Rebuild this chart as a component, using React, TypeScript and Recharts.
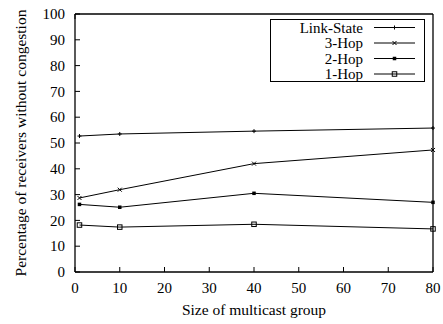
import React from 'react';
import { LineChart, Line, XAxis, YAxis, Legend } from 'recharts';

const groupSizes = [1, 10, 40, 80];
const linkState = [52.7, 53.5, 54.6, 55.8];
const hop3 = [28.7, 31.9, 42.0, 47.3];
const hop2 = [26.2, 25.1, 30.5, 27.0];
const hop1 = [18.2, 17.4, 18.5, 16.7];
const xTicks = [0, 10, 20, 30, 40, 50, 60, 70, 80];
const yTicks = [0, 10, 20, 30, 40, 50, 60, 70, 80, 90, 100];

const seriesNames = ['Link-State', '3-Hop', '2-Hop', '1-Hop'];
const markerKinds: Record<string, string> = {
  'Link-State': 'plus',
  '3-Hop': 'cross',
  '2-Hop': 'star',
  '1-Hop': 'square',
};

const data = groupSizes.map((g, i) => ({
  size: g,
  'Link-State': linkState[i],
  '3-Hop': hop3[i],
  '2-Hop': hop2[i],
  '1-Hop': hop1[i],
}));

const FONT = "'Liberation Serif', Tinos, 'DejaVu Serif', serif";
const INK = '#000';
const txtStyle: React.CSSProperties = { fontFamily: FONT, fontSize: 15, fill: INK };
const labelStyle: React.CSSProperties = { fontFamily: FONT, fontSize: 15.5, fill: INK };

function Marker({ kind, cx, cy }: { kind: string; cx: number; cy: number }) {
  const s = 2;
  if (kind === 'plus') {
    return (
      <g stroke={INK} strokeWidth={1}>
        <line x1={cx - s} x2={cx + s} y1={cy} y2={cy} />
        <line x1={cx} x2={cx} y1={cy - s} y2={cy + s} />
      </g>
    );
  }
  if (kind === 'cross') {
    return (
      <g stroke={INK} strokeWidth={1}>
        <line x1={cx - s} x2={cx + s} y1={cy - s} y2={cy + s} />
        <line x1={cx - s} x2={cx + s} y1={cy + s} y2={cy - s} />
      </g>
    );
  }
  if (kind === 'star') {
    return <rect x={cx - 1.75} y={cy - 1.75} width={3.5} height={3.5} fill={INK} stroke="none" />;
  }
  return <rect x={cx - 2.25} y={cy - 2.25} width={4.5} height={4.5} fill="none" stroke={INK} strokeWidth={1} />;
}

const makeDot = (name: string) => (props: any) => {
  const { cx, cy, index } = props;
  if (cx == null || cy == null) return <g key={`n-${index}`} />;
  return <Marker key={`${name}-${index}`} kind={markerKinds[name]} cx={cx} cy={cy} />;
};

const BottomTick = (props: any) => {
  const { x, y, payload } = props;
  return (
    <g>
      <line x1={x} x2={x} y1={y} y2={y - 5} stroke={INK} strokeWidth={1} />
      <text x={x} y={y + 21} textAnchor="middle" style={txtStyle}>
        {payload.value}
      </text>
    </g>
  );
};

const TopTick = (props: any) => {
  const { x, y } = props;
  return <line x1={x} x2={x} y1={y} y2={y + 5} stroke={INK} strokeWidth={1} />;
};

const LeftTick = (props: any) => {
  const { x, y, payload } = props;
  return (
    <g>
      <line x1={x} x2={x + 5} y1={y} y2={y} stroke={INK} strokeWidth={1} />
      <text x={x - 10} y={y} dy="0.34em" textAnchor="end" style={txtStyle}>
        {payload.value}
      </text>
    </g>
  );
};

const RightTick = (props: any) => {
  const { x, y } = props;
  return <line x1={x} x2={x - 5} y1={y} y2={y} stroke={INK} strokeWidth={1} />;
};

const LegendBox = (props: any) => {
  const present = new Set((props.payload || []).map((p: any) => p.value));
  const names = seriesNames.filter((n) => present.has(n));
  return (
    <svg width={155} height={63} style={{ display: 'block' }}>
      <rect x={0.5} y={0.5} width={154} height={62} fill="#fff" stroke={INK} strokeWidth={1} />
      {names.map((name, i) => {
        const cy = 8.5 + i * 15.5;
        return (
          <g key={name}>
            <text x={93} y={cy} dy="0.34em" textAnchor="end" style={txtStyle}>
              {name}
            </text>
            <line x1={104} x2={145} y1={cy} y2={cy} stroke={INK} strokeWidth={1} />
            <Marker kind={markerKinds[name]} cx={124.5} cy={cy} />
          </g>
        );
      })}
    </svg>
  );
};

const YLabel = (props: any) => {
  const vb = props.viewBox || {};
  const cx = 21;
  const cy = (vb.y || 0) + (vb.height || 0) / 2;
  return (
    <text
      x={cx}
      y={cy}
      transform={`rotate(-90, ${cx}, ${cy})`}
      textAnchor="middle"
      dy="0.34em"
      style={labelStyle}
    >
      Percentage of receivers without congestion
    </text>
  );
};

const XLabel = (props: any) => {
  const vb = props.viewBox || {};
  const cx = (vb.x || 0) + (vb.width || 0) / 2;
  return (
    <text x={cx} y={315} textAnchor="middle" style={labelStyle}>
      Size of multicast group
    </text>
  );
};

export default function App() {
  return (
    <div style={{ position: 'absolute', left: 0, top: 0, width: 443, height: 324, background: '#fff', fontFamily: FONT }}>
      <LineChart width={443} height={324} data={data} margin={{ top: 0, right: 0, bottom: 0, left: 0 }}>
        <XAxis
          xAxisId="bottom"
          dataKey="size"
          type="number"
          domain={[0, 80]}
          ticks={xTicks}
          orientation="bottom"
          height={52}
          tickSize={0}
          tickMargin={0}
          tickLine={false}
          tick={<BottomTick />}
          axisLine={{ stroke: INK, strokeWidth: 1.3 }}
          interval={0}
          label={{ content: <XLabel /> }}
        />
        <XAxis
          xAxisId="top"
          type="number"
          domain={[0, 80]}
          ticks={xTicks}
          orientation="top"
          height={14}
          tickSize={0}
          tickMargin={0}
          tickLine={false}
          tick={<TopTick />}
          axisLine={{ stroke: INK, strokeWidth: 1.3 }}
          interval={0}
        />
        <YAxis
          yAxisId="left"
          type="number"
          domain={[0, 100]}
          ticks={yTicks}
          orientation="left"
          width={75}
          tickSize={0}
          tickMargin={0}
          tickLine={false}
          tick={<LeftTick />}
          axisLine={{ stroke: INK, strokeWidth: 1.3 }}
          interval={0}
          label={{ content: <YLabel /> }}
        />
        <YAxis
          yAxisId="right"
          type="number"
          domain={[0, 100]}
          ticks={yTicks}
          orientation="right"
          width={10}
          tickSize={0}
          tickMargin={0}
          tickLine={false}
          tick={<RightTick />}
          axisLine={{ stroke: INK, strokeWidth: 1.3 }}
          interval={0}
        />
        <Legend
          layout="vertical"
          align="center"
          verticalAlign="middle"
          content={<LegendBox />}
          wrapperStyle={{ position: 'absolute', left: 270, top: 19, width: 155, height: 63 }}
        />
        {seriesNames.map((name) => (
          <Line
            key={name}
            xAxisId="bottom"
            yAxisId="left"
            type="linear"
            dataKey={name}
            name={name}
            stroke={INK}
            strokeWidth={1}
            dot={makeDot(name)}
            activeDot={false}
            isAnimationActive={false}
          />
        ))}
      </LineChart>
    </div>
  );
}
